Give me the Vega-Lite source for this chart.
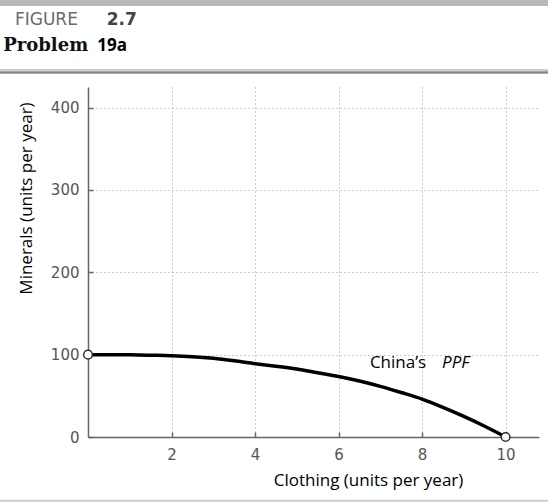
{
  "$schema": "https://vega.github.io/schema/vega-lite/v6.json",
  "width": 451,
  "height": 350,
  "autosize": {"type": "none"},
  "padding": {"left": 88, "top": 87, "right": 9, "bottom": 67},
  "background": "white",
  "config": {"view": {"stroke": null}},
  "layer": [
    {
      "data": {"values": [{}]},
      "mark": {"type": "rule", "color": "#b9b9b9", "strokeWidth": 6, "clip": false},
      "encoding": {
        "x": {"datum": -2.3, "type": "quantitative", "scale": {"domain": [0, 10.8], "nice": false}},
        "x2": {"datum": 11.2},
        "y": {"datum": 527, "type": "quantitative", "scale": {"domain": [0, 425], "nice": false}}
      }
    },
    {
      "data": {"values": [{}]},
      "mark": {"type": "rule", "color": "#cccccc", "strokeWidth": 2, "clip": false},
      "encoding": {
        "x": {"datum": -2.3, "type": "quantitative"},
        "x2": {"datum": 11.2},
        "y": {"datum": 445.5, "type": "quantitative"}
      }
    },
    {
      "data": {"values": [{}]},
      "mark": {"type": "rule", "color": "#888888", "strokeWidth": 2.5, "clip": false},
      "encoding": {
        "x": {"datum": -2.3, "type": "quantitative"},
        "x2": {"datum": 11.2},
        "y": {"datum": 442.5, "type": "quantitative"}
      }
    },
    {
      "data": {"values": [{}]},
      "mark": {"type": "rule", "color": "#cccccc", "strokeWidth": 2, "clip": false},
      "encoding": {
        "x": {"datum": -2.3, "type": "quantitative"},
        "x2": {"datum": 11.2},
        "y": {"datum": -77.5, "type": "quantitative"}
      }
    },
    {
      "data": {"values": [{}]},
      "mark": {"type": "text", "text": "FIGURE", "align": "left", "baseline": "middle", "font": "DejaVu Sans", "fontSize": 17, "color": "#6a6a6a"},
      "encoding": {
        "x": {"datum": -1.75, "type": "quantitative"},
        "y": {"datum": 506, "type": "quantitative"}
      }
    },
    {
      "data": {"values": [{}]},
      "mark": {"type": "text", "text": "2.7", "align": "left", "baseline": "middle", "font": "DejaVu Sans", "fontSize": 17, "fontWeight": "bold", "color": "#444444"},
      "encoding": {
        "x": {"datum": 0.45, "type": "quantitative"},
        "y": {"datum": 506, "type": "quantitative"}
      }
    },
    {
      "data": {"values": [{}]},
      "mark": {"type": "text", "text": "Problem", "align": "left", "baseline": "middle", "font": "DejaVu Serif", "fontSize": 18, "fontWeight": "bold", "color": "#111111"},
      "encoding": {
        "x": {"datum": -2.03, "type": "quantitative"},
        "y": {"datum": 475, "type": "quantitative"}
      }
    },
    {
      "data": {"values": [{}]},
      "mark": {"type": "text", "text": "19a", "align": "left", "baseline": "middle", "font": "Open Sans", "fontSize": 17, "fontWeight": "bold", "color": "#000000"},
      "encoding": {
        "x": {"datum": 0.22, "type": "quantitative"},
        "y": {"datum": 475, "type": "quantitative"}
      }
    },
    {
      "data": {
        "values": [
          {"clothing": 0, "minerals": 100},
          {"clothing": 0.5, "minerals": 100},
          {"clothing": 1, "minerals": 99.8},
          {"clothing": 1.5, "minerals": 99.3},
          {"clothing": 2, "minerals": 98.7},
          {"clothing": 2.5, "minerals": 97.5},
          {"clothing": 3, "minerals": 95.5},
          {"clothing": 3.5, "minerals": 92.5},
          {"clothing": 4, "minerals": 89},
          {"clothing": 4.5, "minerals": 86},
          {"clothing": 5, "minerals": 82.5},
          {"clothing": 5.5, "minerals": 78},
          {"clothing": 6, "minerals": 73.5},
          {"clothing": 6.5, "minerals": 68},
          {"clothing": 7, "minerals": 61.5},
          {"clothing": 7.5, "minerals": 54},
          {"clothing": 8, "minerals": 46},
          {"clothing": 8.5, "minerals": 36},
          {"clothing": 9, "minerals": 25},
          {"clothing": 9.5, "minerals": 13},
          {"clothing": 10, "minerals": 0}
        ]
      },
      "mark": {"type": "line", "color": "#000000", "strokeWidth": 3.5, "interpolate": "monotone"},
      "encoding": {
        "x": {
          "field": "clothing",
          "type": "quantitative",
          "scale": {"domain": [0, 10.8], "nice": false},
          "axis": {
            "title": "Clothing (units per year)",
            "values": [2, 4, 6, 8, 10],
            "grid": true,
            "gridDash": [1, 3],
            "gridColor": "#999999",
            "gridWidth": 1,
            "tickSize": -5,
            "tickColor": "#666666",
            "tickWidth": 1.5,
            "domainColor": "#666666",
            "domainWidth": 1.5,
            "labelPadding": 15,
            "labelFont": "DejaVu Sans",
            "labelFontSize": 15,
            "labelColor": "#555555",
            "titleFont": "Open Sans",
            "titleFontSize": 17,
            "titleFontWeight": "normal",
            "titleColor": "#000000",
            "titleX": 280,
            "titleY": 43,
            "titleBaseline": "middle"
          }
        },
        "y": {
          "field": "minerals",
          "type": "quantitative",
          "scale": {"domain": [0, 425], "nice": false},
          "axis": {
            "title": "Minerals (units per year)",
            "values": [0, 100, 200, 300, 400],
            "grid": true,
            "gridDash": [1, 3],
            "gridColor": "#999999",
            "gridWidth": 1,
            "tickSize": -5,
            "tickColor": "#666666",
            "tickWidth": 1.5,
            "domainColor": "#666666",
            "domainWidth": 1.5,
            "labelPadding": 14,
            "labelFont": "DejaVu Sans",
            "labelFontSize": 15,
            "labelColor": "#555555",
            "titleFont": "Open Sans",
            "titleFontSize": 17,
            "titleFontWeight": "normal",
            "titleColor": "#000000",
            "titleX": -62,
            "titleY": 111,
            "titleBaseline": "middle"
          }
        }
      }
    },
    {
      "data": {
        "values": [
          {"clothing": 0, "minerals": 100},
          {"clothing": 10, "minerals": 0}
        ]
      },
      "mark": {"type": "point", "shape": "circle", "filled": true, "fill": "white", "stroke": "#333333", "strokeWidth": 1.5, "size": 75, "opacity": 1},
      "encoding": {
        "x": {"field": "clothing", "type": "quantitative"},
        "y": {"field": "minerals", "type": "quantitative"}
      }
    },
    {
      "data": {"values": [{"clothing": 6.75, "minerals": 89.5, "label": "China’s"}]},
      "mark": {"type": "text", "align": "left", "baseline": "middle", "font": "Open Sans", "fontSize": 17, "color": "#000000"},
      "encoding": {
        "x": {"field": "clothing", "type": "quantitative"},
        "y": {"field": "minerals", "type": "quantitative"},
        "text": {"field": "label"}
      }
    },
    {
      "data": {"values": [{"clothing": 8.48, "minerals": 89.5, "label": "PPF"}]},
      "mark": {"type": "text", "align": "left", "baseline": "middle", "font": "Open Sans", "fontSize": 17, "fontStyle": "italic", "color": "#000000"},
      "encoding": {
        "x": {"field": "clothing", "type": "quantitative"},
        "y": {"field": "minerals", "type": "quantitative"},
        "text": {"field": "label"}
      }
    }
  ]
}
